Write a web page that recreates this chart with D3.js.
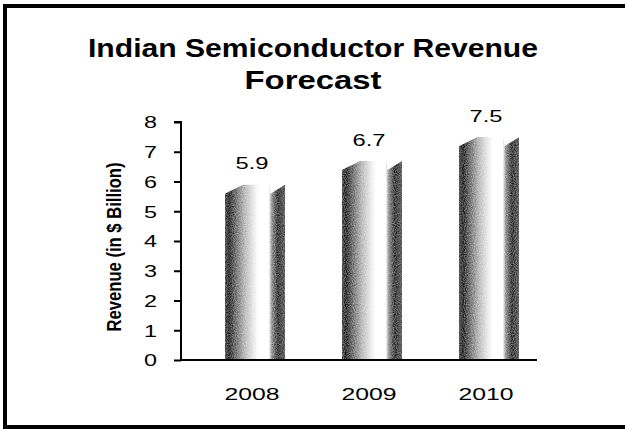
<!DOCTYPE html>
<html>
<head>
<meta charset="utf-8">
<script src="https://cdn.jsdelivr.net/npm/d3@7/dist/d3.min.js"></script>
<style>
  html, body { margin: 0; padding: 0; background: #fff; }
  svg { display: block; }
  text { font-family: Arial, "Liberation Sans", sans-serif; fill: #000; }
</style>
</head>
<body>
<svg id="chart" width="625" height="429"></svg>
<script>
// Revenue forecast, $ billion
const years = ["2008", "2009", "2010"];
const revenue = [5.9, 6.7, 7.5];
const yTicks = [0, 1, 2, 3, 4, 5, 6, 7, 8];
const titleLines = ["Indian Semiconductor Revenue", "Forecast"];
const yAxisTitle = "Revenue (in $ Billion)";

const svg = d3.select("#chart");
const W = 625, H = 429;

// Outer frame (top, left, bottom edges)
svg.append("path")
  .attr("d", `M3,6 L${W},6 M5,4 L5,${H - 2} M3,${H - 2} L${W},${H - 2}`)
  .attr("stroke", "#000").attr("stroke-width", 4).attr("fill", "none");

// Scales
const plotLeft = 181, plotRight = 537, plotTop = 122, plotBottom = 360;
const y = d3.scaleLinear().domain([0, 8]).range([plotBottom, plotTop]);
const x = d3.scaleBand().domain(years).range([196.5, 547.5])
  .paddingInner(0.487).paddingOuter(0.2435);

// Cylinder shading
const defs = svg.append("defs");
const grad = defs.append("linearGradient").attr("id", "cyl")
  .attr("x1", 0).attr("x2", 1).attr("y1", 0).attr("y2", 0);
[[0, "#5a5a5a"], [0.07, "#3a3a3a"], [0.18, "#787878"], [0.33, "#bebebe"],
 [0.48, "#ececec"], [0.56, "#fff"], [0.73, "#fff"], [0.78, "#999"],
 [0.88, "#444"], [1, "#666"]]
  .forEach(([o, c]) => grad.append("stop").attr("offset", o).attr("stop-color", c));

// Halftone-like grain on the bars; pure white stays clean
const grain = defs.append("filter").attr("id", "grain")
  .attr("x", 0).attr("y", 0).attr("width", 1).attr("height", 1)
  .attr("color-interpolation-filters", "sRGB");
grain.append("feFlood").attr("flood-color", "#fff").attr("result", "paper");
grain.append("feComposite").attr("in", "SourceGraphic").attr("in2", "paper")
  .attr("operator", "over").attr("result", "flat");
grain.append("feTurbulence").attr("type", "fractalNoise")
  .attr("baseFrequency", 0.9).attr("numOctaves", 1).attr("seed", 3).attr("result", "noise");
grain.append("feColorMatrix").attr("in", "noise").attr("type", "matrix")
  .attr("values", "1 0 0 0 0  1 0 0 0 0  1 0 0 0 0  0 0 0 0 1").attr("result", "gray");
grain.append("feComposite").attr("in", "flat").attr("in2", "gray")
  .attr("operator", "arithmetic").attr("k1", -1.1).attr("k2", 1.55).attr("k3", 1.1).attr("k4", -0.55)
  .attr("result", "mixed");
grain.append("feComposite").attr("in", "mixed").attr("in2", "SourceAlpha").attr("operator", "in");

// Bars
const bev = 9;
svg.append("g").selectAll("path").data(years).join("path")
  .attr("d", (d, i) => {
    const x0 = x(d), w = x.bandwidth(), x1 = x0 + w;
    const yt = y(revenue[i]), yb = y(0);
    return `M${x0},${yb} L${x0},${yt + bev} L${x0 + 0.3 * w},${yt} L${x0 + 0.74 * w},${yt}` +
      ` L${x0 + 0.76 * w},${yt + bev} L${x1},${yt} L${x1},${yb} Z`;
  })
  .attr("fill", "url(#cyl)")
  .attr("filter", "url(#grain)");

// Value labels
svg.append("g").selectAll("text").data(years).join("text")
  .attr("x", d => x(d) + x.bandwidth() / 2 - 3)
  .attr("y", (d, i) => y(revenue[i]) - 15)
  .attr("text-anchor", "middle")
  .attr("font-size", 17)
  .attr("textLength", 33).attr("lengthAdjust", "spacingAndGlyphs")
  .text((d, i) => revenue[i].toFixed(1));

// Y axis
const yAxis = svg.append("g").attr("transform", `translate(${plotLeft},0)`)
  .call(d3.axisLeft(y).tickValues(yTicks).tickSize(7).tickPadding(17).tickFormat(d3.format("d")));
yAxis.select(".domain").attr("stroke-width", 2).attr("d", `M-7,${plotTop}H0V${plotBottom}`);
yAxis.selectAll(".tick line").attr("stroke-width", 2);
yAxis.selectAll(".tick text")
  .attr("font-size", 17).attr("font-family", "Arial, 'Liberation Sans', sans-serif")
  .attr("fill", "#000").attr("dy", "0.34em")
  .attr("textLength", 13).attr("lengthAdjust", "spacingAndGlyphs");

// X baseline
svg.append("line")
  .attr("x1", plotLeft).attr("x2", plotRight)
  .attr("y1", y(0)).attr("y2", y(0))
  .attr("stroke", "#000").attr("stroke-width", 2);

// X labels
svg.append("g").selectAll("text").data(years).join("text")
  .attr("x", d => x(d) + x.bandwidth() / 2 - 3)
  .attr("y", 400)
  .attr("text-anchor", "middle")
  .attr("font-size", 17)
  .attr("textLength", 55).attr("lengthAdjust", "spacingAndGlyphs")
  .text(d => d);

// Y axis title
svg.append("text")
  .attr("transform", `translate(121,${(plotTop + plotBottom) / 2 + 6}) rotate(-90)`)
  .attr("text-anchor", "middle")
  .attr("font-size", 20).attr("font-weight", "bold")
  .attr("textLength", 169).attr("lengthAdjust", "spacingAndGlyphs")
  .text(yAxisTitle);

// Chart title
const titleW = [450, 137];
svg.append("g").selectAll("text").data(titleLines).join("text")
  .attr("x", 313)
  .attr("y", (d, i) => 57 + i * 32)
  .attr("text-anchor", "middle")
  .attr("font-size", 25).attr("font-weight", "bold")
  .attr("textLength", (d, i) => titleW[i]).attr("lengthAdjust", "spacingAndGlyphs")
  .text(d => d);
</script>
</body>
</html>
